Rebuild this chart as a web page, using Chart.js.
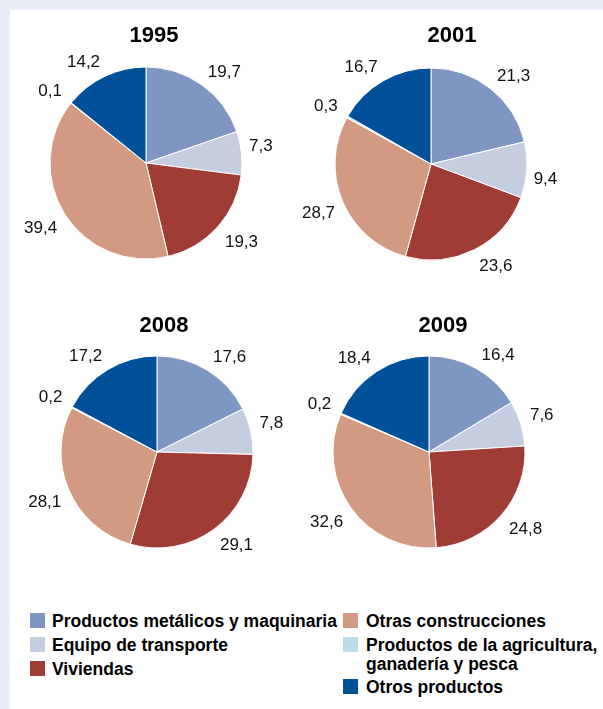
<!DOCTYPE html>
<html>
<head>
<meta charset="utf-8">
<script src="https://cdn.jsdelivr.net/npm/chart.js@4/dist/chart.umd.min.js"></script>
<style>
  html, body { margin: 0; padding: 0; }
  body {
    width: 603px; height: 709px; position: relative; overflow: hidden;
    background: #e9eef8;
    font-family: "Liberation Sans", Arial, sans-serif;
  }
  #panel { position: absolute; left: 10px; top: 10px; right: 0; bottom: 0; background: #ffffff; }
  canvas { position: absolute; }
  .item { position: absolute; font-weight: bold; font-size: 17.5px; line-height: 19px; color: #000; white-space: nowrap; }
  .sw { position: absolute; width: 15px; height: 15px; }
</style>
</head>
<body>
<div id="panel"></div>
<canvas id="c1995" width="300" height="290" style="left:0px;top:0px"></canvas>
<canvas id="c2001" width="303" height="290" style="left:300px;top:0px"></canvas>
<canvas id="c2008" width="300" height="290" style="left:0px;top:290px"></canvas>
<canvas id="c2009" width="303" height="290" style="left:300px;top:290px"></canvas>
<div id="legend"></div>
<script>
// Categories of investment (clockwise from 12 o'clock)
const categories = [
  'Productos metálicos y maquinaria',
  'Equipo de transporte',
  'Viviendas',
  'Otras construcciones',
  'Productos de la agricultura, ganadería y pesca',
  'Otros productos'
];
const legendLines = [
  ['Productos metálicos y maquinaria'],
  ['Equipo de transporte'],
  ['Viviendas'],
  ['Otras construcciones'],
  ['Productos de la agricultura,', 'ganadería y pesca'],
  ['Otros productos']
];
const years = ['1995', '2001', '2008', '2009'];

// Shares (%) per year
const values1995 = [19.7, 7.3, 19.3, 39.4, 0.1, 14.2];
const values2001 = [21.3, 9.4, 23.6, 28.7, 0.3, 16.7];
const values2008 = [17.6, 7.8, 29.1, 28.1, 0.2, 17.2];
const values2009 = [16.4, 7.6, 24.8, 32.6, 0.2, 18.4];

const colors = ['#7f96c2', '#c5cde0', '#9f3c35', '#d39a83', '#bcdde6', '#00509a'];

// Layout of each pie inside its canvas: pie centre and title centre
const layouts = {
  '1995': { id: 'c1995', w: 300, h: 290, cx: 146, cy: 163, tx: 154, ty: 36, values: values1995 },
  '2001': { id: 'c2001', w: 303, h: 290, cx: 131, cy: 164, tx: 152, ty: 36, values: values2001 },
  '2008': { id: 'c2008', w: 300, h: 290, cx: 157, cy: 162, tx: 164, ty: 36, values: values2008 },
  '2009': { id: 'c2009', w: 303, h: 290, cx: 129, cy: 162, tx: 143, ty: 36, values: values2009 }
};
const RADIUS = 96;
const LABEL_RADIUS = 112;

const fmt = v => v.toFixed(1).replace('.', ',');

// Draws the year title and the outside-end value labels
const pieText = {
  id: 'pieText',
  afterDatasetsDraw(chart, args, opts) {
    const ctx = chart.ctx;
    ctx.save();
    ctx.fillStyle = '#000';
    ctx.textAlign = 'center';
    ctx.textBaseline = 'middle';
    ctx.font = 'bold 22px "Liberation Sans", Arial, sans-serif';
    ctx.fillText(opts.title, opts.tx, opts.ty);

    ctx.font = '17px "Liberation Sans", Arial, sans-serif';
    ctx.fillStyle = '#111';
    const ds = chart.data.datasets[0];
    const meta = chart.getDatasetMeta(0);
    meta.data.forEach((arc, i) => {
      const p = arc.getProps(['x', 'y', 'startAngle', 'endAngle', 'outerRadius'], true);
      const mid = (p.startAngle + p.endAngle) / 2;
      const c = Math.cos(mid), s = Math.sin(mid);
      const txt = fmt(ds.data[i]);
      const w = ctx.measureText(txt).width;
      const R = p.outerRadius + (LABEL_RADIUS - RADIUS);
      // push the label box outward so it clears the rim
      const lx = p.x + R * c + Math.sign(c) * 0.45 * w * Math.sqrt(Math.abs(s));
      const ly = p.y + R * s + Math.sign(s) * 7.5 * (1 - Math.abs(s)) + 1.5;
      ctx.fillText(txt, lx, ly);
    });
    ctx.restore();
  }
};

years.forEach(y => {
  const L = layouts[y];
  new Chart(document.getElementById(L.id), {
    type: 'pie',
    data: {
      labels: categories,
      datasets: [{
        data: L.values,
        backgroundColor: colors,
        borderColor: '#ffffff',
        borderWidth: 1
      }]
    },
    options: {
      responsive: false,
      animation: false,
      devicePixelRatio: 1,
      radius: RADIUS,
      layout: {
        padding: {
          left: L.cx - RADIUS,
          right: L.w - L.cx - RADIUS,
          top: L.cy - RADIUS,
          bottom: L.h - L.cy - RADIUS
        }
      },
      plugins: {
        legend: { display: false },
        tooltip: { enabled: false },
        pieText: { title: y, tx: L.tx, ty: L.ty }
      }
    },
    plugins: [pieText]
  });
});

// Legend: two columns of coloured squares with bold labels
const legendPos = [
  { sx: 30, tx: 52, top: 611.5 },
  { sx: 30, tx: 52, top: 635.5 },
  { sx: 30, tx: 52, top: 659.5 },
  { sx: 343, tx: 366, top: 611.5 },
  { sx: 343, tx: 366, top: 635.5 },
  { sx: 343, tx: 366, top: 677.5 }
];
const legend = document.getElementById('legend');
legendLines.forEach((lines, i) => {
  const pos = legendPos[i];
  const sw = document.createElement('div');
  sw.className = 'sw';
  sw.style.left = pos.sx + 'px';
  sw.style.top = (pos.top + 1.5) + 'px';
  sw.style.background = colors[i];
  legend.appendChild(sw);
  const t = document.createElement('div');
  t.className = 'item';
  t.style.left = pos.tx + 'px';
  t.style.top = pos.top + 'px';
  t.innerHTML = lines.join('<br>');
  legend.appendChild(t);
});
</script>
</body>
</html>
